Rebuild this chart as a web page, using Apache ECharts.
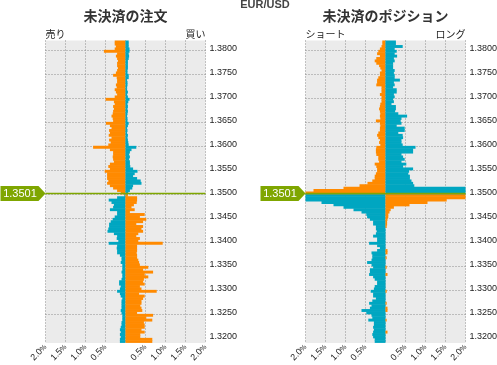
<!DOCTYPE html>
<html><head><meta charset="utf-8">
<script src="https://cdn.jsdelivr.net/npm/echarts@6.0.0/dist/echarts.min.js"></script>
<style>html,body{margin:0;padding:0;background:#fff}#c{width:497px;height:365px}</style>
</head><body><div id="c"></div>
<script>
// price buckets (0.0005 wide), listed from the top of the chart down
const topPrice = 1.3815;
const step = 0.0005;
const nLevels = 126;
const currentPrice = 1.3501;
const xTicks = [-2, -1.5, -1, -0.5, 0, 0.5, 1, 1.5, 2];
const pairName = 'EUR/USD';
const panelTitles = ['未決済の注文', '未決済のポジション'];
const sideLabels = [['売り', '買い'], ['ショート', 'ロング']];

// open orders (% of total), top (1.3815) to bottom (1.3190)
const ordersSell = [
0.27,0.27,0.24,0.27,0.54,0.21,0.24,0.21,0.19,0.21,
0.21,0.19,0.21,0.24,0.31,0.22,0.21,0.21,0.24,0.22,
0.27,0.24,0.21,0.27,0.50,0.29,0.27,0.31,0.29,0.31,
0.32,0.35,0.32,0.31,0.49,0.39,0.35,0.41,0.39,0.42,
0.35,0.41,0.37,0.43,0.81,0.39,0.31,0.31,0.32,0.31,
0.29,0.39,0.43,0.39,0.52,0.46,0.46,0.46,0.43,0.46,
0.39,0.31,0.21,0.12,0.03,0.21,0.42,0.35,0.29,0.31,
0.39,0.21,0.21,0.27,0.32,0.37,0.41,0.41,0.43,0.45,
0.29,0.21,0.22,0.18,0.42,0.21,0.22,0.21,0.21,0.14,
0.10,0.10,0.12,0.08,0.08,0.08,0.10,0.08,0.08,0.10,
0.16,0.16,0.12,0.14,0.21,0.14,0.12,0.08,0.10,0.10,
0.10,0.10,0.12,0.10,0.08,0.08,0.08,0.10,0.10,0.12,
0.14,0.12,0.14,0.12,0.14,0.14];
const ordersBuy = [
0.08,0.08,0.08,0.10,0.10,0.08,0.09,0.08,0.06,0.06,
0.06,0.06,0.05,0.05,0.08,0.08,0.04,0.05,0.05,0.04,
0.04,0.06,0.04,0.06,0.10,0.07,0.05,0.06,0.05,0.06,
0.05,0.04,0.05,0.05,0.08,0.06,0.04,0.05,0.04,0.06,
0.05,0.06,0.07,0.08,0.27,0.15,0.11,0.09,0.11,0.09,
0.11,0.11,0.12,0.19,0.30,0.23,0.19,0.29,0.38,0.40,
0.19,0.17,0.11,0.07,0.06,0.29,0.29,0.28,0.21,0.15,
0.23,0.11,0.48,0.36,0.52,0.44,0.27,0.44,0.40,0.44,
0.32,0.27,0.36,0.32,0.93,0.29,0.29,0.29,0.28,0.29,
0.29,0.32,0.34,0.36,0.57,0.44,0.69,0.48,0.57,0.46,
0.44,0.48,0.36,0.40,0.78,0.34,0.48,0.44,0.40,0.40,
0.37,0.40,0.42,0.29,0.69,0.52,0.67,0.46,0.48,0.48,
0.40,0.48,0.37,0.37,0.67,0.67];

// open positions (% of total), top to bottom
const positionsShort = [
0.08,0.08,0.10,0.14,0.18,0.21,0.14,0.23,0.27,0.23,
0.16,0.13,0.10,0.14,0.14,0.18,0.21,0.21,0.23,0.10,
0.10,0.10,0.14,0.10,0.10,0.10,0.13,0.14,0.16,0.14,
0.13,0.14,0.13,0.24,0.14,0.13,0.14,0.14,0.18,0.21,
0.18,0.14,0.16,0.13,0.23,0.24,0.24,0.23,0.18,0.18,
0.16,0.27,0.23,0.21,0.21,0.24,0.27,0.27,0.33,0.45,
0.65,1.05,1.80,2.30,2.30,2.30,2.30,1.60,1.30,1.05,
0.80,0.60,0.48,0.46,0.39,0.31,0.31,0.24,0.24,0.22,
0.24,0.31,0.21,0.21,0.41,0.21,0.14,0.21,0.35,0.33,
0.33,0.35,0.46,0.35,0.31,0.39,0.39,0.41,0.31,0.27,
0.21,0.21,0.27,0.29,0.37,0.31,0.31,0.24,0.33,0.41,
0.35,0.39,0.60,0.48,0.35,0.33,0.43,0.29,0.29,0.31,
0.29,0.31,0.33,0.31,0.27,0.27];
const positionsLong = [
0.26,0.26,0.43,0.23,0.28,0.23,0.29,0.21,0.23,0.19,
0.19,0.19,0.23,0.21,0.23,0.23,0.36,0.21,0.23,0.19,
0.28,0.28,0.21,0.23,0.19,0.21,0.15,0.26,0.26,0.24,
0.32,0.54,0.40,0.38,0.40,0.28,0.48,0.48,0.32,0.43,
0.44,0.40,0.40,0.43,0.75,0.69,0.69,0.40,0.44,0.48,
0.40,0.52,0.44,0.69,0.59,0.57,0.61,0.61,0.65,0.69,
0.72,2.30,2.30,2.30,2.30,2.30,1.53,1.05,0.60,0.21,
0.13,0.10,0.07,0.07,0.05,0.04,0.04,0.03,0,0,
0,0,0,0,0,0,0,0.05,0.05,0,
0.03,0,0,0,0.03,0,0,0.05,0,0,
0,0,0,0,0.03,0,0,0,0,0.03,
0,0.05,0.05,0,0,0,0.03,0,0,0,
0,0.05,0,0,0,0];

const FONT = '"Liberation Sans", Arial, sans-serif';
const JFONT = '"Noto Sans CJK JP", sans-serif';
const ORANGE = '#ff8a00', TEAL = '#00a6c1', GREEN = '#7fa600', BG = '#ebebeb', GRIDC = '#8c8c8c';

const levels = [];
for (let i = 0; i < nLevels; i++) levels.push((topPrice - i * step).toFixed(4));
const cats = levels.slice().reverse();            // bottom -> top for the category axis
const asc = a => a.slice().reverse();
const isAbove = idx => parseFloat(cats[idx]) + step > currentPrice;
const isMajor = (idx, val) => Math.round(parseFloat(val) * 10000) % 50 === 0;
const yMin = parseFloat(cats[0]), yMax = topPrice + step;

const panels = [
  {left: 45.5, l: ordersSell, r: ordersBuy},
  {left: 305.5, l: positionsShort, r: positionsLong}
];

const grid = [], xAxis = [], yAxis = [], series = [], title = [];
title.push({text: pairName, left: 265, top: -1, textAlign: 'center', textVerticalAlign: 'top', padding: 0,
  textStyle: {fontSize: 11, fontWeight: 'bold', color: '#444', fontFamily: FONT}});

panels.forEach((p, g) => {
  const gw = 160;
  grid.push({left: p.left, top: 40.5, width: gw, height: 302.4, show: true, backgroundColor: BG,
    borderWidth: 0, containLabel: false, outerBoundsMode: 'none'});
  title.push({text: panelTitles[g], left: p.left + gw / 2, top: 9, textAlign: 'center', textVerticalAlign: 'top', padding: 0,
    textStyle: {fontSize: 14, fontWeight: 'bold', color: '#333', fontFamily: JFONT}});
  title.push({text: sideLabels[g][0], left: p.left, top: 29, textAlign: 'left', textVerticalAlign: 'top', padding: 0,
    textStyle: {fontSize: 10, fontWeight: 'normal', color: '#222', fontFamily: JFONT}});
  title.push({text: sideLabels[g][1], left: p.left + gw, top: 29, textAlign: 'right', textVerticalAlign: 'top', padding: 0,
    textStyle: {fontSize: 10, fontWeight: 'normal', color: '#222', fontFamily: JFONT}});

  xAxis.push({type: 'value', gridIndex: g, min: xTicks[0], max: xTicks[xTicks.length - 1], interval: 0.5,
    axisLine: {show: false}, axisTick: {show: false},
    splitLine: {show: true, lineStyle: {type: [1, 2], color: GRIDC, width: 1}},
    axisLabel: {rotate: 45, margin: 3, color: '#222', fontFamily: FONT, fontSize: 9,
      formatter: v => v === 0 ? '' : '{n|' + Math.abs(v).toFixed(1) + '}{p|%}',
      rich: {n: {fontSize: 9, fontFamily: FONT, color: '#222'}, p: {fontSize: 7, fontFamily: FONT, color: '#222'}}}});

  yAxis.push({type: 'category', gridIndex: g, data: cats, position: 'right', boundaryGap: true,
    axisLine: {show: false}, axisTick: {show: false},
    axisLabel: {interval: isMajor, color: '#222', fontFamily: FONT, fontSize: 9, margin: 4},
    splitLine: {show: true, interval: isMajor, showMaxLine: false, showMinLine: false,
      lineStyle: {type: [1, 2], color: GRIDC, width: 1}}});
  yAxis.push({type: 'value', gridIndex: g, min: yMin, max: yMax, show: false});

  const yi = g * 2;
  series.push({type: 'bar', xAxisIndex: g, yAxisIndex: yi, data: asc(p.l).map(v => -v),
    barGap: '-100%', barWidth: 2.9, silent: true,
    itemStyle: {color: prm => isAbove(prm.dataIndex) ? ORANGE : TEAL}});
  series.push({type: 'bar', xAxisIndex: g, yAxisIndex: yi, data: asc(p.r),
    barGap: '-100%', barWidth: 2.9, silent: true,
    itemStyle: {color: prm => isAbove(prm.dataIndex) ? TEAL : ORANGE}});
  series.push({type: 'line', xAxisIndex: g, yAxisIndex: yi + 1, z: 5, silent: true,
    data: [[xTicks[0], currentPrice], [xTicks[xTicks.length - 1], currentPrice]],
    symbol: 'none', lineStyle: {color: GREEN, width: 1.5},
    markPoint: {silent: true, symbol: 'path://M0,0 L38,0 L45,7.5 L38,15 L0,15 Z', symbolSize: [45, 15],
      symbolOffset: ['-50%', 0], itemStyle: {color: GREEN},
      label: {show: true, position: 'inside', offset: [-3, 0], color: '#fff', fontSize: 11, fontFamily: FONT,
        formatter: () => currentPrice.toFixed(4)},
      data: [{coord: [xTicks[0], currentPrice], value: currentPrice}]}});
});

const chart = echarts.init(document.getElementById('c'));
chart.setOption({animation: false, backgroundColor: '#fff', title, grid, xAxis, yAxis, series});
</script></body></html>
